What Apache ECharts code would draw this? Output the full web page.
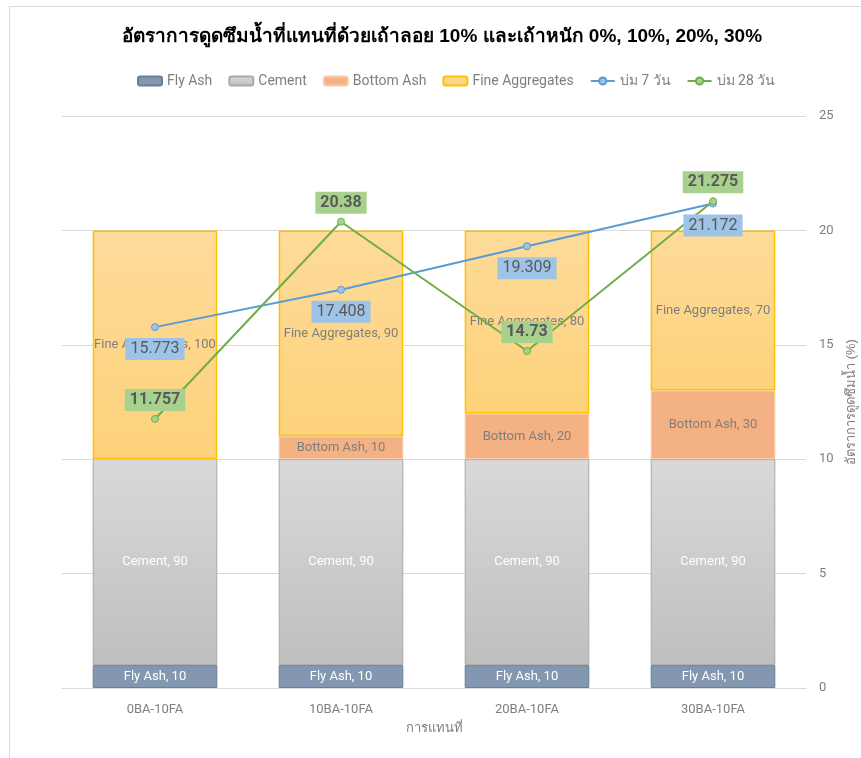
<!DOCTYPE html>
<html>
<head>
<meta charset="utf-8">
<script src="https://cdn.jsdelivr.net/npm/echarts@6/dist/echarts.min.js"></script>
<style>
  html, body { margin: 0; padding: 0; background: #fff; }
  #chart { width: 861px; height: 758px; }
</style>
</head>
<body>
<div id="chart"></div>
<script>
  // ข้อมูล
  var categories = ['0BA-10FA', '10BA-10FA', '20BA-10FA', '30BA-10FA']
  var flyAsh = [10, 10, 10, 10]
  var cement = [90, 90, 90, 90]
  var bottomAsh = [0, 10, 20, 30]
  var fineAggregates = [100, 90, 80, 70]
  var cure7 = [15.773, 17.408, 19.309, 21.172]
  var cure28 = [11.757, 20.38, 14.73, 21.275]

  var font = '"Roboto", "Noto Sans", sans-serif'

  function grad(top, bottom) {
    return new echarts.graphic.LinearGradient(0, 0, 0, 1, [
      { offset: 0, color: top },
      { offset: 1, color: bottom }
    ])
  }

  function barSeries(name, data, fill, border, borderWidth, labelColor) {
    return {
      name: name,
      type: 'bar',
      stack: 'mix',
      yAxisIndex: 0,
      barWidth: '67%',
      data: data,
      itemStyle: { color: fill, borderColor: border, borderWidth: borderWidth },
      label: {
        show: true,
        position: 'inside',
        formatter: function (p) { return p.value ? p.seriesName + ', ' + p.value : '' },
        color: labelColor,
        fontFamily: font,
        fontSize: 13
      }
    }
  }

  var charts = echarts.init(document.getElementById('chart'))
  var option = {
    animation: false,
    graphic: [{
      type: 'rect',
      shape: { x: 9.5, y: 6.5, width: 900, height: 800 },
      style: { fill: 'none', stroke: '#d9d9d9', lineWidth: 1 },
      silent: true
    }],
    title: {
      text: 'อัตราการดูดซึมน้ำที่แทนที่ด้วยเถ้าลอย 10% และเถ้าหนัก 0%, 10%, 20%, 30%',
      left: 117,
      top: 22,
      textStyle: { fontSize: 19, fontWeight: 'bold', color: '#000' }
    },
    legend: {
      top: 69,
      left: 132,
      itemWidth: 24,
      itemHeight: 9,
      itemGap: 16,
      textStyle: { color: '#7f7f7f', fontSize: 14, fontFamily: font },
      data: ['Fly Ash', 'Cement', 'Bottom Ash', 'Fine Aggregates', 'บ่ม 7 วัน', 'บ่ม 28 วัน']
    },
    grid: { left: 62, right: 55, top: 116, bottom: 70, outerBoundsMode: 'none' },
    xAxis: {
      type: 'category',
      data: categories,
      name: 'การแทนที่',
      nameLocation: 'middle',
      nameGap: 34,
      nameTextStyle: { color: '#7f7f7f', fontSize: 13 },
      axisTick: { show: false },
      axisLine: { lineStyle: { color: '#d9d9d9' } },
      axisLabel: { color: '#7f7f7f', fontSize: 13, fontFamily: font, margin: 15 }
    },
    yAxis: [
      {
        type: 'value',
        min: 0,
        max: 250,
        show: false
      },
      {
        type: 'value',
        position: 'right',
        min: 0,
        max: 25,
        interval: 5,
        name: 'อัตราการดูดซึมน้ำ (%)',
        nameLocation: 'middle',
        nameRotate: 90,
        nameGap: 29,
        nameTextStyle: { color: '#7f7f7f', fontSize: 13 },
        axisLine: { show: false },
        axisTick: { show: false },
        axisLabel: { color: '#7f7f7f', fontSize: 13, fontFamily: font, margin: 13 },
        splitLine: { lineStyle: { color: '#d9d9d9', width: 1 } }
      }
    ],
    series: [
      barSeries('Fly Ash', flyAsh, '#8497b0', '#6b7e98', 1, '#ffffff'),
      barSeries('Cement', cement, grad('#d9d9d9', '#bfbfbf'), '#a9a9a9', 1, '#ffffff'),
      barSeries('Bottom Ash', bottomAsh, '#f4b183', '#f8cbad', 1, '#7f7f7f'),
      barSeries('Fine Aggregates', fineAggregates, grad('#fddb9a', '#fdd27a'), '#ffc000', 1.5, '#7f7f7f'),
      {
        name: 'บ่ม 7 วัน',
        type: 'line',
        yAxisIndex: 1,
        data: cure7,
        symbol: 'circle',
        symbolSize: 7,
        lineStyle: { color: '#5b9bd5', width: 2 },
        itemStyle: { color: '#9dc3e6', borderColor: '#5b9bd5', borderWidth: 1 },
        label: {
          show: true,
          position: 'bottom',
          distance: 7,
          color: '#595959',
          fontSize: 16,
          fontFamily: font,
          backgroundColor: '#9dc3e6',
          padding: [3, 5]
        }
      },
      {
        name: 'บ่ม 28 วัน',
        type: 'line',
        yAxisIndex: 1,
        data: cure28,
        symbol: 'circle',
        symbolSize: 7,
        lineStyle: { color: '#70ad47', width: 2 },
        itemStyle: { color: '#a9d18e', borderColor: '#70ad47', borderWidth: 1 },
        label: {
          show: true,
          position: 'top',
          distance: 4,
          color: '#595959',
          fontSize: 16,
          fontWeight: 'bold',
          fontFamily: font,
          backgroundColor: '#a9d18e',
          padding: [3, 5]
        }
      }
    ]
  }
  charts.setOption(option)
  window.addEventListener('resize', () => {
    charts.resize()
  })
</script>
</body>
</html>
